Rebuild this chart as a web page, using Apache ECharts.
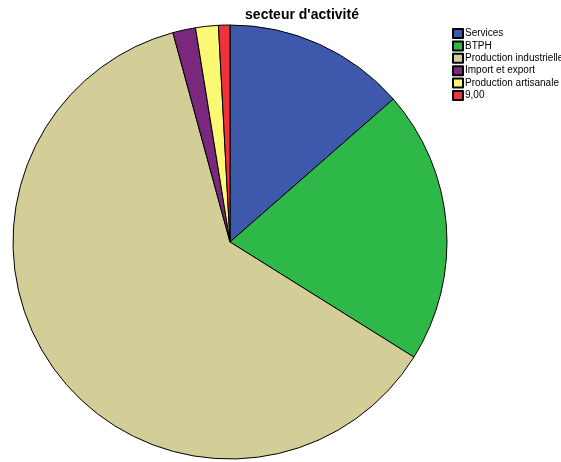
<!DOCTYPE html>
<html>
<head>
<meta charset="utf-8">
<script src="https://cdn.jsdelivr.net/npm/echarts@6/dist/echarts.min.js"></script>
<style>html,body{margin:0;padding:0;background:#fff}#c{width:561px;height:462px}</style>
</head>
<body>
<div id="c"></div>
<script>
const categories = ["Services", "BTPH", "Production industrielle", "Import et export", "Production artisanale", "9,00"];
const counts = [16, 24, 73, 2, 2, 1];
const colors = ["#3E58AC", "#2EB848", "#D3CE97", "#79287D", "#FBF873", "#EF3338"];
const titleText = "secteur d'activité";

const chart = echarts.init(document.getElementById('c'), null, {renderer: 'canvas'});
chart.setOption({
  animation: false,
  title: {
    text: titleText,
    left: 297, top: 3, textAlign: 'center',
    textStyle: {fontFamily: 'Liberation Sans', fontSize: 14, fontWeight: 'bold', color: '#000'}
  },
  legend: {
    orient: 'vertical',
    left: 447, top: 23,
    icon: 'rect',
    itemWidth: 10, itemHeight: 9, itemGap: 1.4,
    textStyle: {fontFamily: 'Liberation Sans', fontSize: 10, color: '#000', padding: [0,0,0,-3], lineHeight: 11},
    data: categories
  },
  series: [{
    type: 'pie',
    center: [230, 242],
    radius: 217,
    startAngle: 90,
    clockwise: true,
    label: {show: false},
    labelLine: {show: false},
    emphasis: {disabled: true},
    itemStyle: {borderColor: '#000', borderWidth: 1},
    data: categories.map((n, i) => ({name: n, value: counts[i], itemStyle: {color: colors[i]}}))
  }]
});
</script>
</body>
</html>
